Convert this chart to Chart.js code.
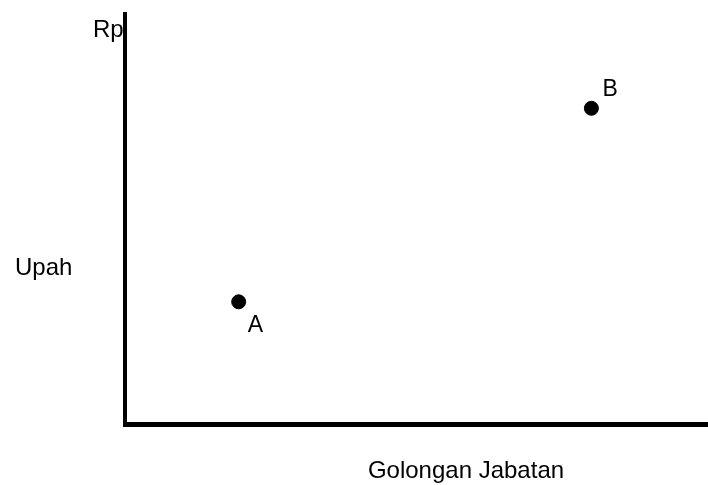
<!DOCTYPE html>
<html>
<head>
<meta charset="utf-8">
<script src="https://cdn.jsdelivr.net/npm/chart.js@4/dist/chart.umd.min.js"></script>
<style>
  html, body { margin: 0; padding: 0; background: #fff; }
  #wrap { width: 708px; height: 485px; }
</style>
</head>
<body>
<div id="wrap"><canvas id="chart" width="708" height="485"></canvas></div>
<script>
// data
const pointNames = ["A", "B"];
const golongan = [1.95, 8.0];
const upah = [2.98, 7.7];

// axis texts
const yUnit = "Rp";
const yTitle = "Upah";
const xTitle = "Golongan Jabatan";

const FONT = "Liberation Sans, Arial, sans-serif";

// label drawing (point letters + axis texts)
const labelPlugin = {
  id: "labels",
  afterDatasetsDraw(chart) {
    const ctx = chart.ctx;
    const meta = chart.getDatasetMeta(0);
    const offsets = [[9, 30], [11, -12]];

    ctx.save();
    ctx.fillStyle = "#000";
    ctx.textAlign = "left";
    ctx.textBaseline = "alphabetic";

    ctx.font = "23px " + FONT;
    meta.data.forEach((pt, i) => {
      ctx.fillText(pointNames[i], pt.x + offsets[i][0], pt.y + offsets[i][1]);
    });

    ctx.font = "24px " + FONT;
    ctx.fillText(yUnit, 93, 37);
    ctx.fillText(yTitle, 15, 275);
    ctx.textAlign = "center";
    ctx.fillText(xTitle, 466, 478);
    ctx.restore();
  }
};

const chart = new Chart(document.getElementById("chart"), {
  type: "scatter",
  data: {
    datasets: [
      {
        label: "Titik",
        data: golongan.map((g, i) => ({ x: g, y: upah[i] })),
        backgroundColor: "#000",
        borderColor: "#000",
        pointRadius: 7,
        pointHoverRadius: 7
      }
    ]
  },
  options: {
    responsive: false,
    animation: false,
    events: [],
    layout: {
      autoPadding: false,
      padding: { top: 14, right: 0, left: 0, bottom: 0 }
    },
    plugins: {
      legend: { display: false },
      tooltip: { enabled: false }
    },
    scales: {
      x: {
        min: 0,
        max: 10,
        grid: { display: false },
        ticks: { display: false },
        border: { display: true, color: "#000", width: 5 },
        afterFit: (s) => { s.height = 61; }
      },
      y: {
        min: 0,
        max: 10,
        grid: { display: false },
        ticks: { display: false },
        border: { display: true, color: "#000", width: 4 },
        afterFit: (s) => { s.width = 125; }
      }
    }
  },
  plugins: [labelPlugin]
});
</script>
</body>
</html>
